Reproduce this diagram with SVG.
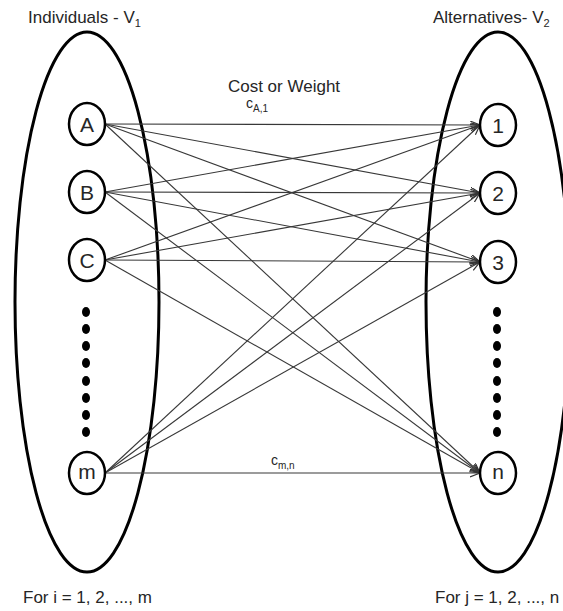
<svg xmlns="http://www.w3.org/2000/svg" width="563" height="611" viewBox="0 0 563 611">
  <style>
    text { font-family: "Liberation Sans", Arial, sans-serif; fill: #262626; }
    .set { fill: none; stroke: #000; stroke-width: 3; }
    .node ellipse { fill: #fff; stroke: #000; stroke-width: 2.5; }
    .node text { font-size: 21px; text-anchor: middle; }
    .dot { fill: #000; }
    .edge { stroke: #383838; stroke-width: 1.1; fill: none; marker-end: url(#arrow); }
    .title { font-size: 17px; }
    .cost { font-size: 14px; }
  </style>
  <defs>
    <marker id="arrow" markerWidth="12" markerHeight="10" refX="10" refY="4" orient="auto" markerUnits="userSpaceOnUse">
      <path d="M0,0 L10,4 L0,8" fill="none" stroke="#333" stroke-width="1.2"/>
    </marker>
  </defs>
  <rect width="563" height="611" fill="#fff"/>

  <!-- partition sets -->
  <g id="set-v1">
    <ellipse class="set" cx="87" cy="302" rx="72" ry="270"/>
  </g>
  <g id="set-v2">
    <ellipse class="set" cx="498" cy="302" rx="72" ry="270"/>
  </g>

  <!-- every individual linked to every alternative -->
  <g id="connectors">
    <line class="edge" x1="105" y1="124" x2="480" y2="125"/>
    <line class="edge" x1="105" y1="124" x2="480" y2="193"/>
    <line class="edge" x1="105" y1="124" x2="480" y2="262"/>
    <line class="edge" x1="105" y1="124" x2="480" y2="473"/>
    <line class="edge" x1="105" y1="192" x2="480" y2="125"/>
    <line class="edge" x1="105" y1="192" x2="480" y2="193"/>
    <line class="edge" x1="105" y1="192" x2="480" y2="262"/>
    <line class="edge" x1="105" y1="192" x2="480" y2="473"/>
    <line class="edge" x1="105" y1="260" x2="480" y2="125"/>
    <line class="edge" x1="105" y1="260" x2="480" y2="193"/>
    <line class="edge" x1="105" y1="260" x2="480" y2="262"/>
    <line class="edge" x1="105" y1="260" x2="480" y2="473"/>
    <line class="edge" x1="105" y1="473" x2="480" y2="125"/>
    <line class="edge" x1="105" y1="473" x2="480" y2="193"/>
    <line class="edge" x1="105" y1="473" x2="480" y2="262"/>
    <line class="edge" x1="105" y1="473" x2="480" y2="473"/>
  </g>

  <!-- individuals -->
  <g id="node-A" class="node"><ellipse cx="87" cy="124" rx="18" ry="21"/><text x="87" y="131.5">A</text></g>
  <g id="node-B" class="node"><ellipse cx="87" cy="192" rx="18" ry="21"/><text x="87" y="199.5">B</text></g>
  <g id="node-C" class="node"><ellipse cx="87" cy="260" rx="18" ry="21"/><text x="87" y="267.5">C</text></g>
  <g id="node-m" class="node"><ellipse cx="87" cy="473" rx="18" ry="21"/><text x="87" y="479">m</text></g>

  <!-- alternatives -->
  <g id="node-1" class="node"><ellipse cx="498" cy="125" rx="18" ry="21"/><text x="498" y="132.5">1</text></g>
  <g id="node-2" class="node"><ellipse cx="498" cy="193" rx="18" ry="21"/><text x="498" y="200.5">2</text></g>
  <g id="node-3" class="node"><ellipse cx="498" cy="262" rx="18" ry="21"/><text x="498" y="269.5">3</text></g>
  <g id="node-n" class="node"><ellipse cx="498" cy="473" rx="18" ry="21"/><text x="498" y="479">n</text></g>

  <!-- ellipsis dots -->
  <g id="dots-left">
    <ellipse class="dot" cx="86" cy="312" rx="4" ry="5"/>
    <ellipse class="dot" cx="86" cy="329" rx="4" ry="5"/>
    <ellipse class="dot" cx="86" cy="346" rx="4" ry="5"/>
    <ellipse class="dot" cx="86" cy="363" rx="4" ry="5"/>
    <ellipse class="dot" cx="86" cy="381" rx="4" ry="5"/>
    <ellipse class="dot" cx="86" cy="398" rx="4" ry="5"/>
    <ellipse class="dot" cx="86" cy="415" rx="4" ry="5"/>
    <ellipse class="dot" cx="86" cy="432" rx="4" ry="5"/>
  </g>
  <g id="dots-right">
    <ellipse class="dot" cx="497" cy="312" rx="4" ry="5"/>
    <ellipse class="dot" cx="497" cy="329" rx="4" ry="5"/>
    <ellipse class="dot" cx="497" cy="346" rx="4" ry="5"/>
    <ellipse class="dot" cx="497" cy="363" rx="4" ry="5"/>
    <ellipse class="dot" cx="497" cy="381" rx="4" ry="5"/>
    <ellipse class="dot" cx="497" cy="398" rx="4" ry="5"/>
    <ellipse class="dot" cx="497" cy="415" rx="4" ry="5"/>
    <ellipse class="dot" cx="497" cy="432" rx="4" ry="5"/>
  </g>

  <!-- labels -->
  <g id="labels">
    <text class="title" x="28" y="23">Individuals - V<tspan font-size="11" dy="4">1</tspan></text>
    <text class="title" x="433" y="23">Alternatives- V<tspan font-size="11" dy="4">2</tspan></text>
    <text class="title" x="284" y="92" text-anchor="middle">Cost or Weight</text>
    <text class="cost" x="246" y="108">c<tspan font-size="10" dy="4">A,1</tspan></text>
    <text class="cost" x="271" y="465">c<tspan font-size="10" dy="4">m,n</tspan></text>
    <text class="title" x="23" y="603">For i = 1, 2, ..., m</text>
    <text class="title" x="435" y="603">For j = 1, 2, ..., n</text>
  </g>
</svg>
